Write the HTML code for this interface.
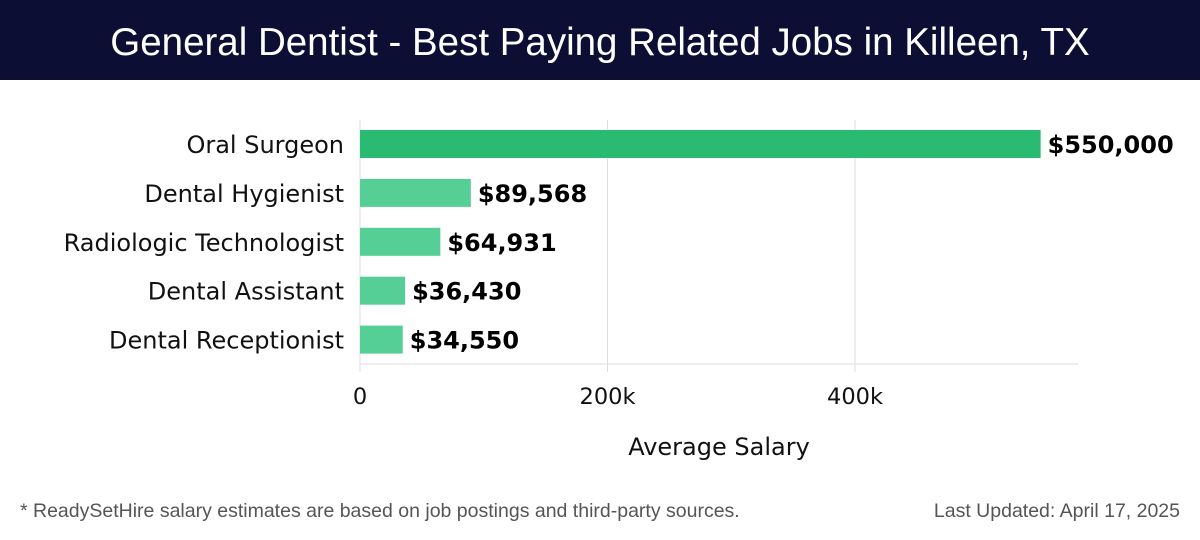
<!DOCTYPE html>
<html><head><meta charset="utf-8"><style>
body{margin:0;width:1200px;height:540px;background:#fff;overflow:hidden;font-family:"DejaVu Sans","Liberation Sans",sans-serif}
#hdr{position:absolute;left:0;top:0;width:1200px;height:80px;background:#0d0e33;color:#fff;font-size:38.5px;text-align:center;line-height:86px;font-family:"Liberation Sans",sans-serif}
.foot{position:absolute;top:500px;font-size:19.5px;color:#555;font-family:"Liberation Sans",sans-serif}
</style></head><body>
<div id="hdr">General Dentist - Best Paying Related Jobs in Killeen, TX</div>
<svg id="chart" width="1200" height="540" style="position:absolute;left:0;top:0"></svg>
<div class="foot" style="left:20px">* ReadySetHire salary estimates are based on job postings and third-party sources.</div>
<div class="foot" style="right:20px">Last Updated: April 17, 2025</div>
<script>
const categories=["Oral Surgeon","Dental Hygienist","Radiologic Technologist","Dental Assistant","Dental Receptionist"];
const values=[550000,89568,64931,36430,34550];
const labels=["$550,000","$89,568","$64,931","$36,430","$34,550"];
const ticks=[0,200000,400000];
const tickLabels=["0","200k","400k"];
const svg=document.getElementById('chart');
const NS='http://www.w3.org/2000/svg';
const x0=360,pxPer=247.5/200000;
const xs=v=>x0+v*pxPer;
const ys=i=>130+i*48.9;
function mk(t,a,txt){const e=document.createElementNS(NS,t);for(const k in a)e.setAttribute(k,a[k]);if(txt!=null)e.textContent=txt;svg.appendChild(e);return e;}
ticks.forEach((t,i)=>{
 const g=mk('line',{x1:xs(t),x2:xs(t),y1:120,y2:372,stroke:'#ddd','stroke-width':1});
 
 
 const l=mk('text',{x:xs(t),y:404,'text-anchor':'middle','font-size':22.5,fill:'#111'},tickLabels[i]);
 
 
});
const ax=mk('line',{x1:360,x2:1078,y1:364,y2:364,stroke:'#ddd','stroke-width':1});


const at=mk('text',{x:719,y:455,'text-anchor':'middle','font-size':24,fill:'#111'},'Average Salary');


categories.forEach((c,i)=>{
 const y=ys(i);
 const r=mk('rect',{x:x0,y:y,width:xs(values[i])-x0,height:28,fill:i==0?'#2abb73':'#55cf96'});
 
 
 const cl=mk('text',{x:344,y:y+23,'text-anchor':'end','font-size':24,fill:'#111'},c);
 
 
 const vl=mk('text',{x:xs(values[i])+7,y:y+23,'font-size':24,'font-weight':'bold',fill:'#000'},labels[i]);
 
 
});
</script>
</body></html>
